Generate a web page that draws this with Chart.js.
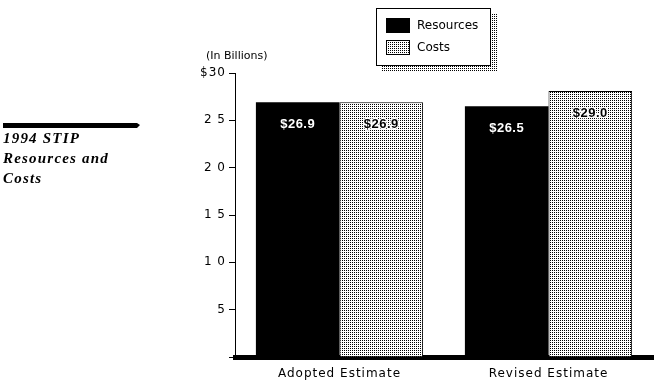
<!DOCTYPE html>
<html>
<head>
<meta charset="utf-8">
<script src="https://cdn.jsdelivr.net/npm/chart.js@4.4.1/dist/chart.umd.min.js"></script>
<style>
  html, body { margin: 0; padding: 0; background: #fff; }
  #wrap { width: 656px; height: 389px; position: relative; }
</style>
</head>
<body>
<div id="wrap"><canvas id="stip-chart" width="656" height="389"></canvas></div>
<script>
const categories = ["Adopted Estimate", "Revised Estimate"]
const seriesNames = ["Resources", "Costs"]
const resources = [26.9, 26.5]
const costs = [26.9, 28.1]
const resourceLabels = ["$26.9", "$26.5"]
const costLabels = ["$26.9", "$29.0"]
const yTickLabels = { 0: "", 5: "5", 10: "1 0", 15: "1 5", 20: "2 0", 25: "2 5", 30: "$30" }
const titleLines = ["1994 STIP", "Resources and", "Costs"]
const unitLabel = "(In Billions)"

function dotPattern() {
    const c = document.createElement("canvas")
    c.width = 2
    c.height = 2
    const g = c.getContext("2d")
    g.fillStyle = "#fff"
    g.fillRect(0, 0, 2, 2)
    g.fillStyle = "#000"
    g.fillRect(0, 0, 1, 1)
    return g.createPattern(c, "repeat")
}

const canvas = document.getElementById("stip-chart")
const ctx0 = canvas.getContext("2d")
const dots = dotPattern()

function decorPlugin() {
    return {
        id: "decor",
        beforeDraw: (chart) => {
            const ctx = chart.ctx
            ctx.save()
            ctx.fillStyle = "#fff"
            ctx.fillRect(0, 0, chart.width, chart.height)

            // left side title
            ctx.fillStyle = "#000"
            ctx.beginPath()
            ctx.moveTo(3, 123)
            ctx.lineTo(137, 123)
            ctx.lineTo(140, 125)
            ctx.lineTo(137, 128)
            ctx.lineTo(3, 128)
            ctx.closePath()
            ctx.fill()
            ctx.font = "italic bold 15px 'Liberation Serif'"
            ctx.letterSpacing = "1.2px"
            ctx.textBaseline = "alphabetic"
            titleLines.forEach((line, i) => ctx.fillText(line, 3, 143 + i * 20))

            // unit label
            ctx.font = "11px 'DejaVu Sans'"
            ctx.letterSpacing = "0px"
            ctx.fillText(unitLabel, 206, 59)

            // legend with dotted shadow
            ctx.fillStyle = dots
            ctx.fillRect(382, 14, 116, 57)
            ctx.fillStyle = "#fff"
            ctx.fillRect(376, 8, 115, 58)
            ctx.strokeStyle = "#000"
            ctx.lineWidth = 1
            ctx.strokeRect(376.5, 8.5, 114, 57)
            chart.data.datasets.forEach((ds, i) => {
                const y = 18 + i * 22
                ctx.fillStyle = ds.backgroundColor
                ctx.fillRect(386, y, 24, 15)
                ctx.strokeStyle = "#000"
                ctx.strokeRect(386.5, y + 0.5, 23, 14)
                ctx.fillStyle = "#000"
                ctx.font = "12px 'DejaVu Sans'"
                ctx.textBaseline = "middle"
                ctx.fillText(ds.label, 417, y + 8)
            })
            ctx.restore()
            ctx.letterSpacing = "1px"
        },
        afterDatasetsDraw: (chart) => {
            const ctx = chart.ctx
            ctx.save()
            ctx.font = "bold 13px 'Liberation Sans'"
            ctx.letterSpacing = "0.5px"
            ctx.textAlign = "center"
            ctx.textBaseline = "middle"
            chart.data.datasets.forEach((ds, di) => {
                const meta = chart.getDatasetMeta(di)
                meta.data.forEach((bar, i) => {
                    const text = ds.valueLabels[i]
                    const y = bar.y + 22
                    if (di === 0) {
                        ctx.fillStyle = "#fff"
                        ctx.fillText(text, bar.x, y)
                    } else {
                        ctx.strokeStyle = "#fff"
                        ctx.lineWidth = 2.5
                        ctx.lineJoin = "round"
                        ctx.strokeText(text, bar.x, y)
                        ctx.fillStyle = "#000"
                        ctx.fillText(text, bar.x, y)
                    }
                })
            })
            ctx.restore()
        }
    }
}

new Chart(ctx0, {
    type: "bar",
    data: {
        labels: categories,
        datasets: [
            {
                label: seriesNames[0],
                data: resources,
                valueLabels: resourceLabels,
                backgroundColor: "#000",
                borderWidth: 0
            },
            {
                label: seriesNames[1],
                data: costs,
                valueLabels: costLabels,
                backgroundColor: dots,
                borderColor: "#000",
                borderWidth: 1
            }
        ]
    },
    options: {
        responsive: false,
        animation: false,
        events: [],
        layout: { padding: { top: 73, right: 3, left: 0, bottom: 0 } },
        datasets: {
            bar: { categoryPercentage: 0.8, barPercentage: 1.0 }
        },
        plugins: {
            legend: { display: false },
            tooltip: { enabled: false }
        },
        scales: {
            x: {
                grid: { display: true, drawOnChartArea: false, drawTicks: false },
                border: { display: true, color: "#000", width: 5 },
                ticks: {
                    color: "#000",
                    padding: 10,
                    font: { family: "'DejaVu Sans'", size: 12 }
                },
                afterFit: (scale) => { scale.height = 32 }
            },
            y: {
                min: 0,
                max: 30,
                grid: { display: true, drawOnChartArea: false, drawTicks: true, tickLength: 6, color: "#000" },
                border: { display: true, color: "#000", width: 1 },
                ticks: {
                    stepSize: 5,
                    color: "#000",
                    padding: 3,
                    font: { family: "'DejaVu Sans'", size: 12 },
                    callback: (v) => yTickLabels[v]
                },
                afterFit: (scale) => { scale.width = 235 }
            }
        }
    },
    plugins: [decorPlugin()]
})
</script>
</body>
</html>
